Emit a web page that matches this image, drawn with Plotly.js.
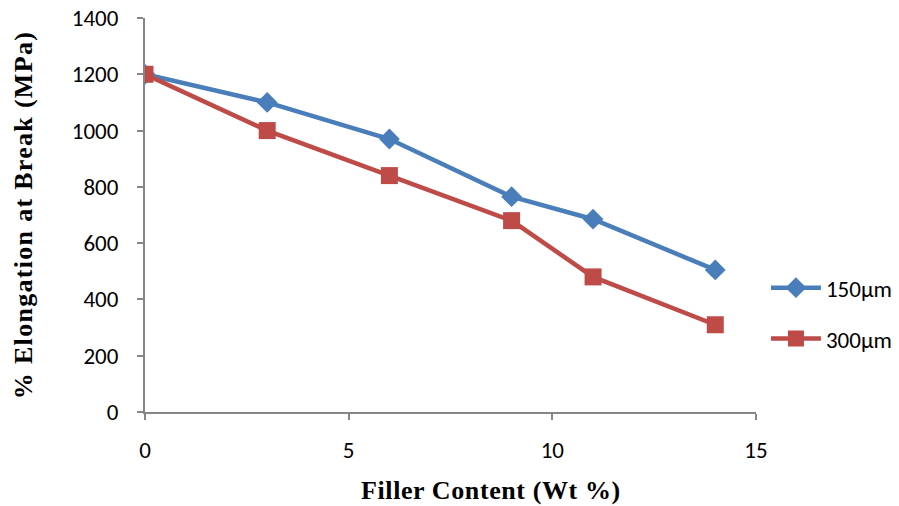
<!DOCTYPE html>
<html>
<head>
<meta charset="utf-8">
<script src="https://cdn.plot.ly/plotly-3.0.1.min.js"></script>
<style>html,body{margin:0;padding:0;background:#fff;}#chart{width:899px;height:506px;}
.g-ytitle text{letter-spacing:1.3px;}
.annotation-text{letter-spacing:0.6px;}
</style>
</head>
<body>
<div id="chart"></div>
<script>
const fillerContent = [0, 3, 6, 9, 11, 14];
const series150 = [1200, 1100, 970, 765, 685, 505];
const series300 = [1200, 1000, 840, 680, 480, 310];
const seriesNames = ["150µm", "300µm"];
const xTicks = [0, 5, 10, 15];
const yTicks = [0, 200, 400, 600, 800, 1000, 1200, 1400];
const xTitle = "Filler Content (Wt %)";
const yTitle = "% Elongation at Break (MPa)";

const tickFont = {family: "Carlito, Calibri, 'Liberation Sans', Arial, sans-serif", size: 23, color: "#000"};
const titleFont = {family: "'Liberation Serif', 'Times New Roman', serif", size: 26, color: "#000"};

const traces = [
  {x: fillerContent, y: series150, name: seriesNames[0], legendgroup: "a", mode: "lines+markers",
   line: {color: "#4a7ebb", width: 4.5}, marker: {symbol: "diamond", size: 16, color: "#4a7ebb"}},
  {x: fillerContent, y: series300, name: seriesNames[1], legendgroup: "b", mode: "lines+markers",
   line: {color: "#be4b48", width: 4.5}, marker: {symbol: "square", size: 17, color: "#be4b48"}}
];

const layout = {
  width: 899, height: 506,
  margin: {l: 145, r: 143, t: 18, b: 94},
  paper_bgcolor: "#fff", plot_bgcolor: "#fff",
  showlegend: true,
  legend: {xref: "container", yref: "container", x: 0.852, y: 0.381, xanchor: "left", yanchor: "middle",
           font: {family: tickFont.family, size: 23, color: "#000"},
           tracegroupgap: 18, itemwidth: 50, bgcolor: "rgba(0,0,0,0)"},
  xaxis: {range: [0, 15], tickvals: xTicks, ticktext: xTicks.map(String), showgrid: false, zeroline: false,
          showline: true, linecolor: "#868686", linewidth: 2, ticks: "outside", ticklen: 6, tickwidth: 1.5, tickcolor: "#868686",
          tickfont: tickFont, ticklabelstandoff: 10},
  yaxis: {range: [0, 1400], tickvals: yTicks, ticktext: yTicks.map(String), showgrid: false, zeroline: false,
          showline: true, linecolor: "#868686", linewidth: 2, ticks: "outside", ticklen: 6, tickwidth: 1.5, tickcolor: "#868686",
          tickfont: tickFont, ticklabelstandoff: 14,
          title: {text: "<b>" + yTitle + "</b>", font: titleFont, standoff: 32}},
  annotations: [
    {text: "<b>" + xTitle + "</b>", xref: "paper", yref: "paper", x: 0.566, y: -0.2, xanchor: "center", yanchor: "middle",
     showarrow: false, font: titleFont}
  ]
};

Plotly.newPlot("chart", traces, layout, {displayModeBar: false});
</script>
</body>
</html>
